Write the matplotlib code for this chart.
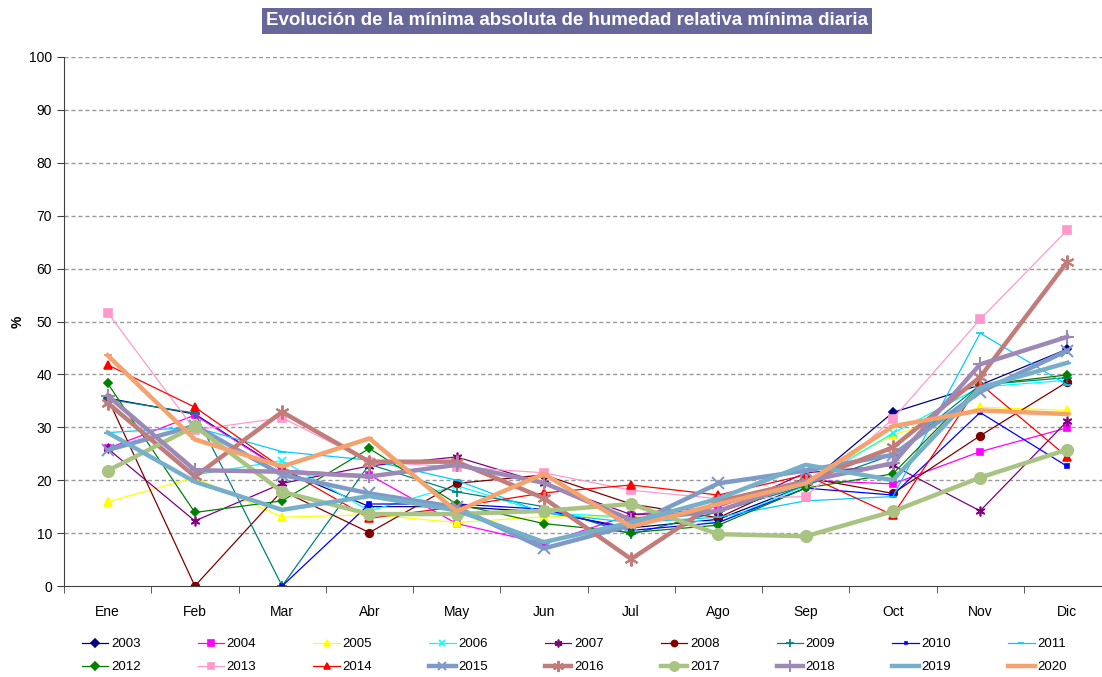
import numpy as np
import matplotlib.pyplot as plt

plt.rcParams['font.family'] = ['Liberation Sans', 'DejaVu Sans']

meses = ['Ene', 'Feb', 'Mar', 'Abr', 'May', 'Jun', 'Jul', 'Ago', 'Sep', 'Oct', 'Nov', 'Dic']
nan = np.nan

# minima absoluta de humedad relativa (%), por año
h2003 = [35.5, 32.5, 22.0, 15.0, 15.0, 14.0, 11.0, 12.6, 19.0, 32.8, 38.0, 44.8]
h2004 = [26.0, 32.3, 21.9, 21.0, 11.8, 8.0, 13.5, 15.0, 20.0, 19.3, 25.4, 29.9]
h2005 = [15.9, 20.5, 13.0, 13.5, 12.0, 13.1, 13.0, 16.0, 20.0, 28.5, 33.8, 33.2]
h2006 = [35.0, 21.0, 23.7, 14.2, 19.0, 13.8, 13.0, 12.0, 19.0, 28.9, 37.6, 38.9]
h2007 = [26.0, 12.3, 19.4, 22.7, 24.4, 19.4, 13.5, 14.0, 21.4, 22.8, 14.2, 31.2]
h2008 = [35.5, 0.0, 18.0, 10.1, 19.4, 21.0, 15.5, 12.9, 20.5, 17.5, 28.4, 38.6]
h2009 = [35.3, 32.7, 0.0, 23.0, 17.8, 15.0, 9.8, 14.0, 19.0, 24.8, 38.0, 39.4]
h2010 = [nan, nan, 0.0, 15.5, 15.5, 14.5, 10.5, 12.0, 18.5, 17.2, 32.8, 22.6]
h2011 = [29.0, 30.0, 25.4, 23.8, 20.0, 13.8, 12.0, 13.0, 16.1, 16.9, 47.8, 38.0]
h2012 = [38.3, 13.9, 16.1, 26.0, 15.5, 11.8, 10.1, 11.5, 18.5, 21.2, 38.0, 39.9]
h2013 = [51.7, 29.5, 31.8, 23.5, 22.5, 21.4, 18.1, 16.5, 16.9, 31.6, 50.4, 67.3]
h2014 = [41.8, 33.8, 22.3, 12.8, 15.0, 17.6, 19.1, 17.2, 21.0, 13.4, 38.2, 24.4]
h2015 = [25.7, 30.3, 21.0, 17.5, 14.9, 7.1, 11.5, 19.4, 21.8, 24.8, 36.7, 44.5]
h2016 = [34.6, 20.7, 32.9, 23.5, 23.5, 16.6, 5.1, 16.0, 19.8, 26.2, 39.5, 61.3]
h2017 = [21.8, 30.2, 17.8, 13.6, 13.6, 14.2, 15.5, 9.8, 9.4, 14.1, 20.5, 25.8]
h2018 = [36.0, 21.9, 21.6, 20.7, 22.9, 19.5, 12.5, 14.2, 19.8, 23.2, 41.9, 47.1]
h2019 = [29.0, 19.7, 14.4, 17.0, 14.3, 8.3, 12.0, 16.5, 22.9, 20.0, 37.5, 42.2]
h2020 = [43.6, 27.7, 22.6, 27.9, 14.1, 21.2, 11.2, 15.5, 19.4, 30.2, 33.2, 32.5]

series = [
    ('2003', h2003, '#000080', 'D', 4.5, 0.9),
    ('2004', h2004, '#FF00FF', 's', 5, 0.9),
    ('2005', h2005, '#FFFF00', '^', 5.5, 0.9),
    ('2006', h2006, '#00FFFF', 'x', 5.5, 0.9),
    ('2007', h2007, '#800080', (6, 2, 0), 7, 0.9),
    ('2008', h2008, '#800000', 'o', 5.5, 0.9),
    ('2009', h2009, '#008080', '+', 6.5, 0.9),
    ('2010', h2010, '#0000FF', 's', 2.5, 0.9),
    ('2011', h2011, '#00CCFF', '_', 6, 0.9),
    ('2012', h2012, '#008000', 'D', 4.5, 0.9),
    ('2013', h2013, '#FF99CC', 's', 6, 0.9),
    ('2014', h2014, '#FF0000', '^', 6, 0.9),
    ('2015', h2015, '#7E9BC8', 'x', 8, 3.2),
    ('2016', h2016, '#C27C7A', (6, 2, 0), 10, 3.2),
    ('2017', h2017, '#A9C482', 'o', 8, 3.2),
    ('2018', h2018, '#9D88B6', '+', 10, 3.2),
    ('2019', h2019, '#76AFC9', '_', 6, 3.2),
    ('2020', h2020, '#F4A36F', '_', 6, 3.2),
]

fig = plt.figure(figsize=(11.02, 6.77), dpi=100)
ax = fig.add_axes([64 / 1102, 91 / 677, 1047 / 1102, 529 / 677])

x = np.arange(len(meses))
handles = []
for name, vals, col, mk, ms, lw in series:
    ln, = ax.plot(x, vals, color=col, lw=lw, marker=mk, markersize=ms,
                  markeredgewidth=1.2 if lw < 1 else 1.5,
                  markerfacecolor=col, markeredgecolor=col, label=name)
    handles.append(ln)

ax.set_xlim(-0.5, 11.5)
ax.set_ylim(0, 100)
ax.set_yticks(range(0, 101, 10))
ax.set_xticks(x)
ax.set_xticklabels(meses)
ax.set_xticks(np.arange(-0.5, 12, 1), minor=True)
ax.tick_params(axis='x', which='major', length=0, pad=14, labelsize=10)
ax.tick_params(axis='x', which='minor', length=5, direction='out', color='#404040')
ax.tick_params(axis='y', length=5, direction='out', labelsize=10, color='#404040')
for v in range(10, 101, 10):
    ax.axhline(v, color='#999999', lw=1, ls=(0, (3, 2)), zorder=0)
for s in ['top', 'right']:
    ax.spines[s].set_visible(False)
for s in ['left', 'bottom']:
    ax.spines[s].set_color('#404040')
fig.text(18 / 1102, 1 - 322 / 677, '%', rotation=90, fontweight='bold',
         fontsize=10, ha='center', va='center')

# legend in two rows, filled row by row
order = []
for j in range(9):
    order += [handles[j], handles[j + 9]]
fig.legend(order, [h.get_label() for h in order], ncol=9, loc='lower left',
           bbox_to_anchor=(70 / 1102, -0.012), frameon=False, fontsize=9.5,
           handlelength=2.0, handletextpad=0.2, columnspacing=4.33,
           labelspacing=0.8, markerscale=0.8)

fig.text(0.5145, 0.969, 'Evolución de la mínima absoluta de humedad relativa mínima diaria',
         ha='center', va='center', color='white', fontsize=13.5, fontweight='bold',
         bbox=dict(facecolor='#67679A', edgecolor='none', pad=3))

fig.savefig('out.png', dpi=100)
